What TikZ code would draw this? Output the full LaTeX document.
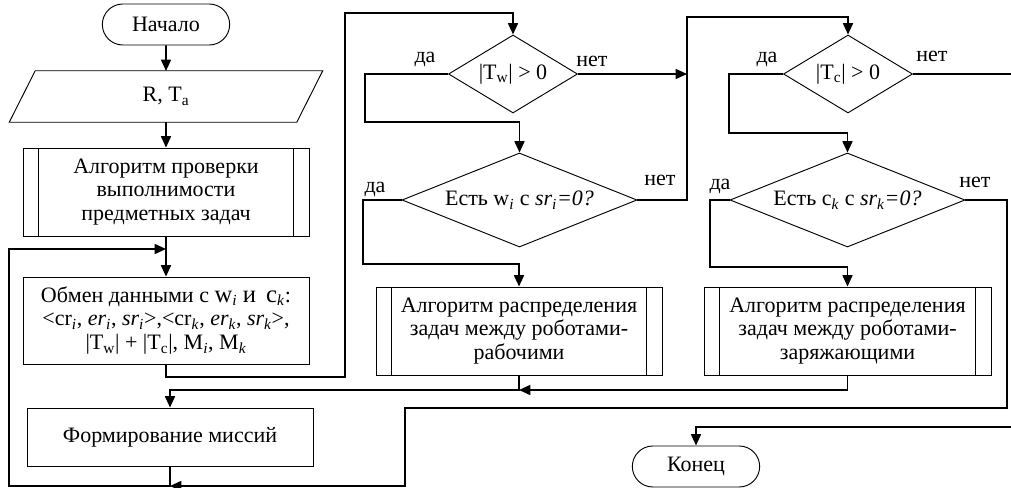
\documentclass[tikz,border=0pt]{standalone}
\usepackage{fontspec}
\setmainfont{Liberation Serif}
\usetikzlibrary{shapes.geometric,shapes.misc,arrows.meta}
\tikzset{
  base/.style={draw, line width=0.7pt, align=center, font=\fontsize{16.5pt}{17.8pt}\selectfont, inner sep=1pt},
  term/.style={base, rounded rectangle, minimum width=97.5pt, minimum height=30.75pt},
  proc/.style={base, rectangle, minimum width=214.5pt},
  subr/.style={proc},
  io/.style={rectangle, align=center, font=\fontsize{16.5pt}{17.8pt}\selectfont, minimum width=215.25pt, minimum height=38.25pt},
  dec/.style={base, diamond},
  lbl/.style={font=\fontsize{16.5pt}{17pt}\selectfont, inner sep=0pt},
  line/.style={line width=1.2pt},
  flow/.style={line, -{Triangle[length=8.5pt,width=7.5pt]}},
}
\newcommand{\subi}[1]{\textsubscript{\textit{#1}}}
\newcommand{\subr}[1]{\textsubscript{#1}}
\newcommand{\largerletters}[1]{{\fontsize{18.5pt}{17.8pt}\selectfont #1}}
\begin{document}
\begin{tikzpicture}[x=0.75pt,y=-0.75pt]
\useasboundingbox (0,0) rectangle (1011,488);
% nodes
\node[term] (start) at (166,24.5) {Начало};
\node[io] (inp) at (166,96.5) {R, T\subr{a}};
\draw[line width=0.7pt] ([xshift=9.75pt]inp.north west) -- ([xshift=9.75pt]inp.north east)
  -- ([xshift=-9.75pt]inp.south east) -- ([xshift=-9.75pt]inp.south west) -- cycle;
\node[subr, minimum height=66pt] (sub1) at (166,192) {Алгоритм проверки\\ выполнимости\\ предметных задач};
\node[proc, minimum height=65.25pt] (exch) at (166,320.5) {Обмен данными с \largerletters{w}\subi{i} \largerletters{и\, c}\subi{k}:\\
 <cr\subi{i}, \textit{er\subi{i}}, \textit{sr\subi{i}}>,<cr\subi{k}, \textit{er\subi{k}}, \textit{sr\subi{k}}>,\\
 |T\subr{w}| + |T\subr{c}|, M\subi{i}, M\subi{k}};
\node[proc, minimum height=43.5pt] (form) at (170,437) {Формирование миссий};

\node[dec, aspect=1.65, minimum width=96.75pt, minimum height=58.5pt] (d1) at (513,74) {|T\subr{w}| > 0};
\node[dec, aspect=2.5, minimum width=176.25pt, minimum height=70.5pt] (d2) at (519.5,200) {Есть w\subi{i} с \textit{sr\subi{i}=0?}};
\node[subr, minimum height=66pt] (box3) at (519,331) {Алгоритм распределения\\ задач между роботами-\\ рабочими};

\node[dec, aspect=1.65, minimum width=96.75pt, minimum height=58.5pt] (d3) at (848,74) {|T\subr{c}| > 0};
\node[dec, aspect=2.5, minimum width=176.25pt, minimum height=70.5pt] (d4) at (847.5,200) {Есть c\subi{k} с \textit{sr\subi{k}=0?}};
\node[subr, minimum height=66pt, minimum width=215.25pt] (box4) at (847.5,331) {Алгоритм распределения\\ задач между роботами-\\ заряжающими};

\node[term] (fin) at (696,466.5) {Конец};

% subroutine side bars
\foreach \n in {sub1,box3,box4}{
  \draw[line width=0.7pt] ([xshift=12pt]\n.north west) -- ([xshift=12pt]\n.south west);
  \draw[line width=0.7pt] ([xshift=-12pt]\n.north east) -- ([xshift=-12pt]\n.south east);
}

% labels
\node[lbl] (y1) at (425,59) {да};
\node[lbl] (n1) at (592,61) {нет};
\node[lbl] (y2) at (375,189) {да};
\node[lbl] (n2) at (660,180) {нет};
\node[lbl] (y3) at (767,59) {да};
\node[lbl] (n3) at (932,56) {нет};
\node[lbl] (y4) at (720,186) {да};
\node[lbl] (n4) at (975,182) {нет};

% helper coordinates
\coordinate (a1) at (345,377);
\coordinate (a2) at (345,13);
\coordinate (j1) at (687,74);
\coordinate (t2) at (687,17);
\coordinate (b1) at (365,122);
\coordinate (b2) at (363,264);
\coordinate (b3) at (729,133);
\coordinate (b4) at (710,267);
\coordinate (m1) at (519,390);
\coordinate (r1) at (1007,408);
\coordinate (r2) at (405,486);
\coordinate (m2) at (170,486);
\coordinate (l1) at (9,249);
\coordinate (m3) at (166,249);
\coordinate (e1) at (1011,74);
\coordinate (e2) at (1011,427);

% connectors
\draw[flow] (start) -- (inp.north |- 0,71);
\draw[flow] (inp.north |- 0,122) -- (sub1);
\draw[flow] (sub1) -- (exch);
\draw[flow] (exch.south) |- (a1) -- (a2) -| (d1.north);
\draw[flow] (d1.west) -| (b1) -| (d2.north);
\draw[flow] (d1.east) -- (j1);
\draw[flow] (d2.east) -| (t2) -| (d3.north);
\draw[flow] (d2.west) -| (b2) -| (box3.north);
\draw[flow] (d3.west) -| (b3) -| (d4.north);
\draw[line] (d3.east) -- (e1);
\draw[flow] (d4.west) -| (b4) -| (box4.north);
\draw[flow] (box4.south) |- (m1);
\draw[flow] (box3.south) -- (m1) -| (form.north);
\draw[flow] (d4.east) -| (r1) -| (r2) -- (m2);
\draw[flow] (form.south) -- (m2) -| (l1) -- (m3);
\draw[flow] (e2) -| (fin.north);
\end{tikzpicture}
\end{document}
